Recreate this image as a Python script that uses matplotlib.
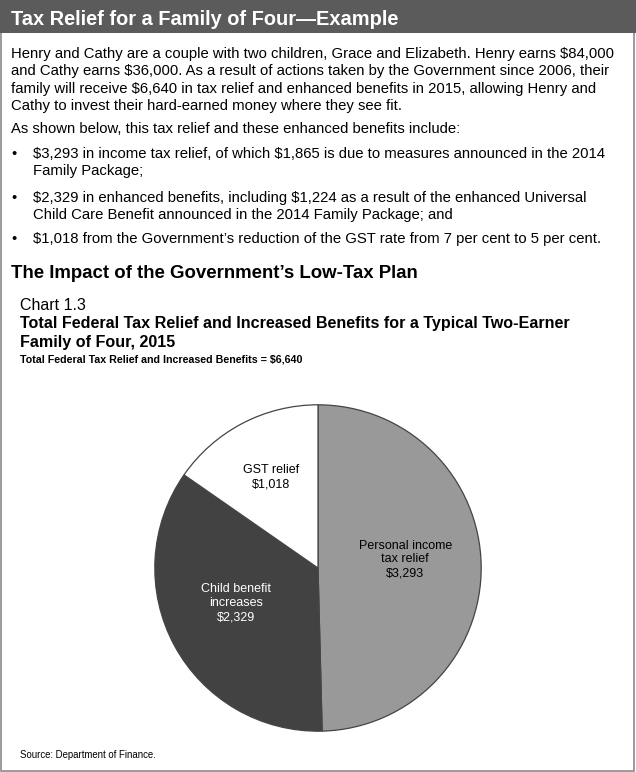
import matplotlib
matplotlib.use("Agg")
import matplotlib.pyplot as plt
from matplotlib.patches import Rectangle

plt.rcParams['font.family'] = ['Liberation Sans', 'DejaVu Sans']
plt.rcParams['text.parse_math'] = False

# chart data
categories = ["Personal income\ntax relief", "Child benefit\nincreases", "GST relief"]
values = [3293, 2329, 1018]
colors = ["#999999", "#424242", "#ffffff"]
label_colors = ["black", "white", "black"]

W, H = 636, 772
fig = plt.figure(figsize=(W / 100, H / 100), dpi=100)

def px(x, y):
    return x / W, 1 - y / H

# outer box + header bar
fig.patches.append(Rectangle(px(1, 771), 633 / W, 770 / H, transform=fig.transFigure,
                             facecolor="white", edgecolor="#8a8a8a", lw=1.2, zorder=-10))
fig.patches.append(Rectangle(px(0, 33), 1, 33 / H, transform=fig.transFigure,
                             facecolor="#5b5b5b", edgecolor="none", zorder=-9))
fig.text(*px(11, 25), "Tax Relief for a Family of Four\u2014Example", color="white",
         fontsize=14.4, fontweight="bold")

body = ["Henry and Cathy are a couple with two children, Grace and Elizabeth. Henry earns $84,000",
        "and Cathy earns $36,000. As a result of actions taken by the Government since 2006, their",
        "family will receive $6,640 in tax relief and enhanced benefits in 2015, allowing Henry and",
        "Cathy to invest their hard-earned money where they see fit."]
for i, line in enumerate(body):
    fig.text(*px(11, 58 + 17.4 * i), line, fontsize=10.7)
fig.text(*px(11, 133), "As shown below, this tax relief and these enhanced benefits include:", fontsize=10.7)

bullets = [(158, ["$3,293 in income tax relief, of which $1,865 is due to measures announced in the 2014",
                  "Family Package;"]),
           (202, ["$2,329 in enhanced benefits, including $1,224 as a result of the enhanced Universal",
                  "Child Care Benefit announced in the 2014 Family Package; and"]),
           (243, ["$1,018 from the Government\u2019s reduction of the GST rate from 7 per cent to 5 per cent."])]
for y0, lines in bullets:
    fig.text(*px(11, y0), "\u2022", fontsize=10.7)
    for j, line in enumerate(lines):
        fig.text(*px(33, y0 + 17 * j), line, fontsize=10.7)

fig.text(*px(11, 278), "The Impact of the Government\u2019s Low-Tax Plan", fontsize=13.4, fontweight="bold")
fig.text(*px(20, 310), "Chart 1.3", fontsize=11.5)
fig.text(*px(20, 328), "Total Federal Tax Relief and Increased Benefits for a Typical Two-Earner",
         fontsize=11.6, fontweight="bold")
fig.text(*px(20, 347), "Family of Four, 2015", fontsize=11.6, fontweight="bold")
fig.text(*px(20, 363), "Total Federal Tax Relief and Increased Benefits = $6,640",
         fontsize=7.7, fontweight="bold")
fig.text(*px(20, 758), "Source: Department of Finance.", fontsize=6.9)

# pie
cx, cy, r = 318, 568, 164
ax = fig.add_axes([(cx - r) / W, (H - cy - r) / H, 2 * r / W, 2 * r / H])
wedges, texts = ax.pie(values, labels=[f"{c}\n${v:,}" for c, v in zip(categories, values)],
                       colors=colors, startangle=90, counterclock=False, radius=1,
                       labeldistance=0.56,
                       wedgeprops=dict(edgecolor="#444444", linewidth=0.9),
                       textprops=dict(fontsize=9, linespacing=1.2))
# small nudges so labels sit where the original has them
nudges = [(-0.025, 0.045), (-0.01, 0.05), (0.0, 0.0)]
for t, c, (dx, dy) in zip(texts, label_colors, nudges):
    t.set_horizontalalignment("center")
    t.set_verticalalignment("center")
    t.set_color(c)
    x, y = t.get_position()
    t.set_position((x + dx, y + dy))
# GST label sits a little further out
x, y = texts[2].get_position()
texts[2].set_position((x * 1.12, y * 1.12))
ax.set_xlim(-1.005, 1.005)
ax.set_ylim(-1.005, 1.005)
ax.set_aspect("equal")
ax.axis("off")

fig.savefig("out.png", dpi=100)
